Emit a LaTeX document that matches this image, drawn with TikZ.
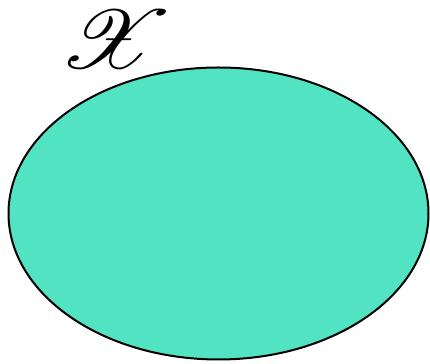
\documentclass[tikz,border=0pt]{standalone}
\usepackage{amsmath}
\usepackage{mathrsfs}
\usepackage{xcolor}
\definecolor{setfill}{RGB}{82,227,194}
\usepackage{tikz}
\usetikzlibrary{shapes.geometric,positioning}

\begin{document}
\begin{tikzpicture}[x=0.3pt,y=-0.3pt]
    \useasboundingbox (0,0) rectangle (430,364);
    \node[ellipse,draw,semithick,fill=setfill,inner sep=0pt,
          minimum width=126pt,minimum height=87.6pt] (setX) at (218.5,213.5) {};
    \node[font=\Huge,inner sep=0pt,xscale=1.15] (labelX) at (116,39) {$\mathscr{X}$};
\end{tikzpicture}
\end{document}
